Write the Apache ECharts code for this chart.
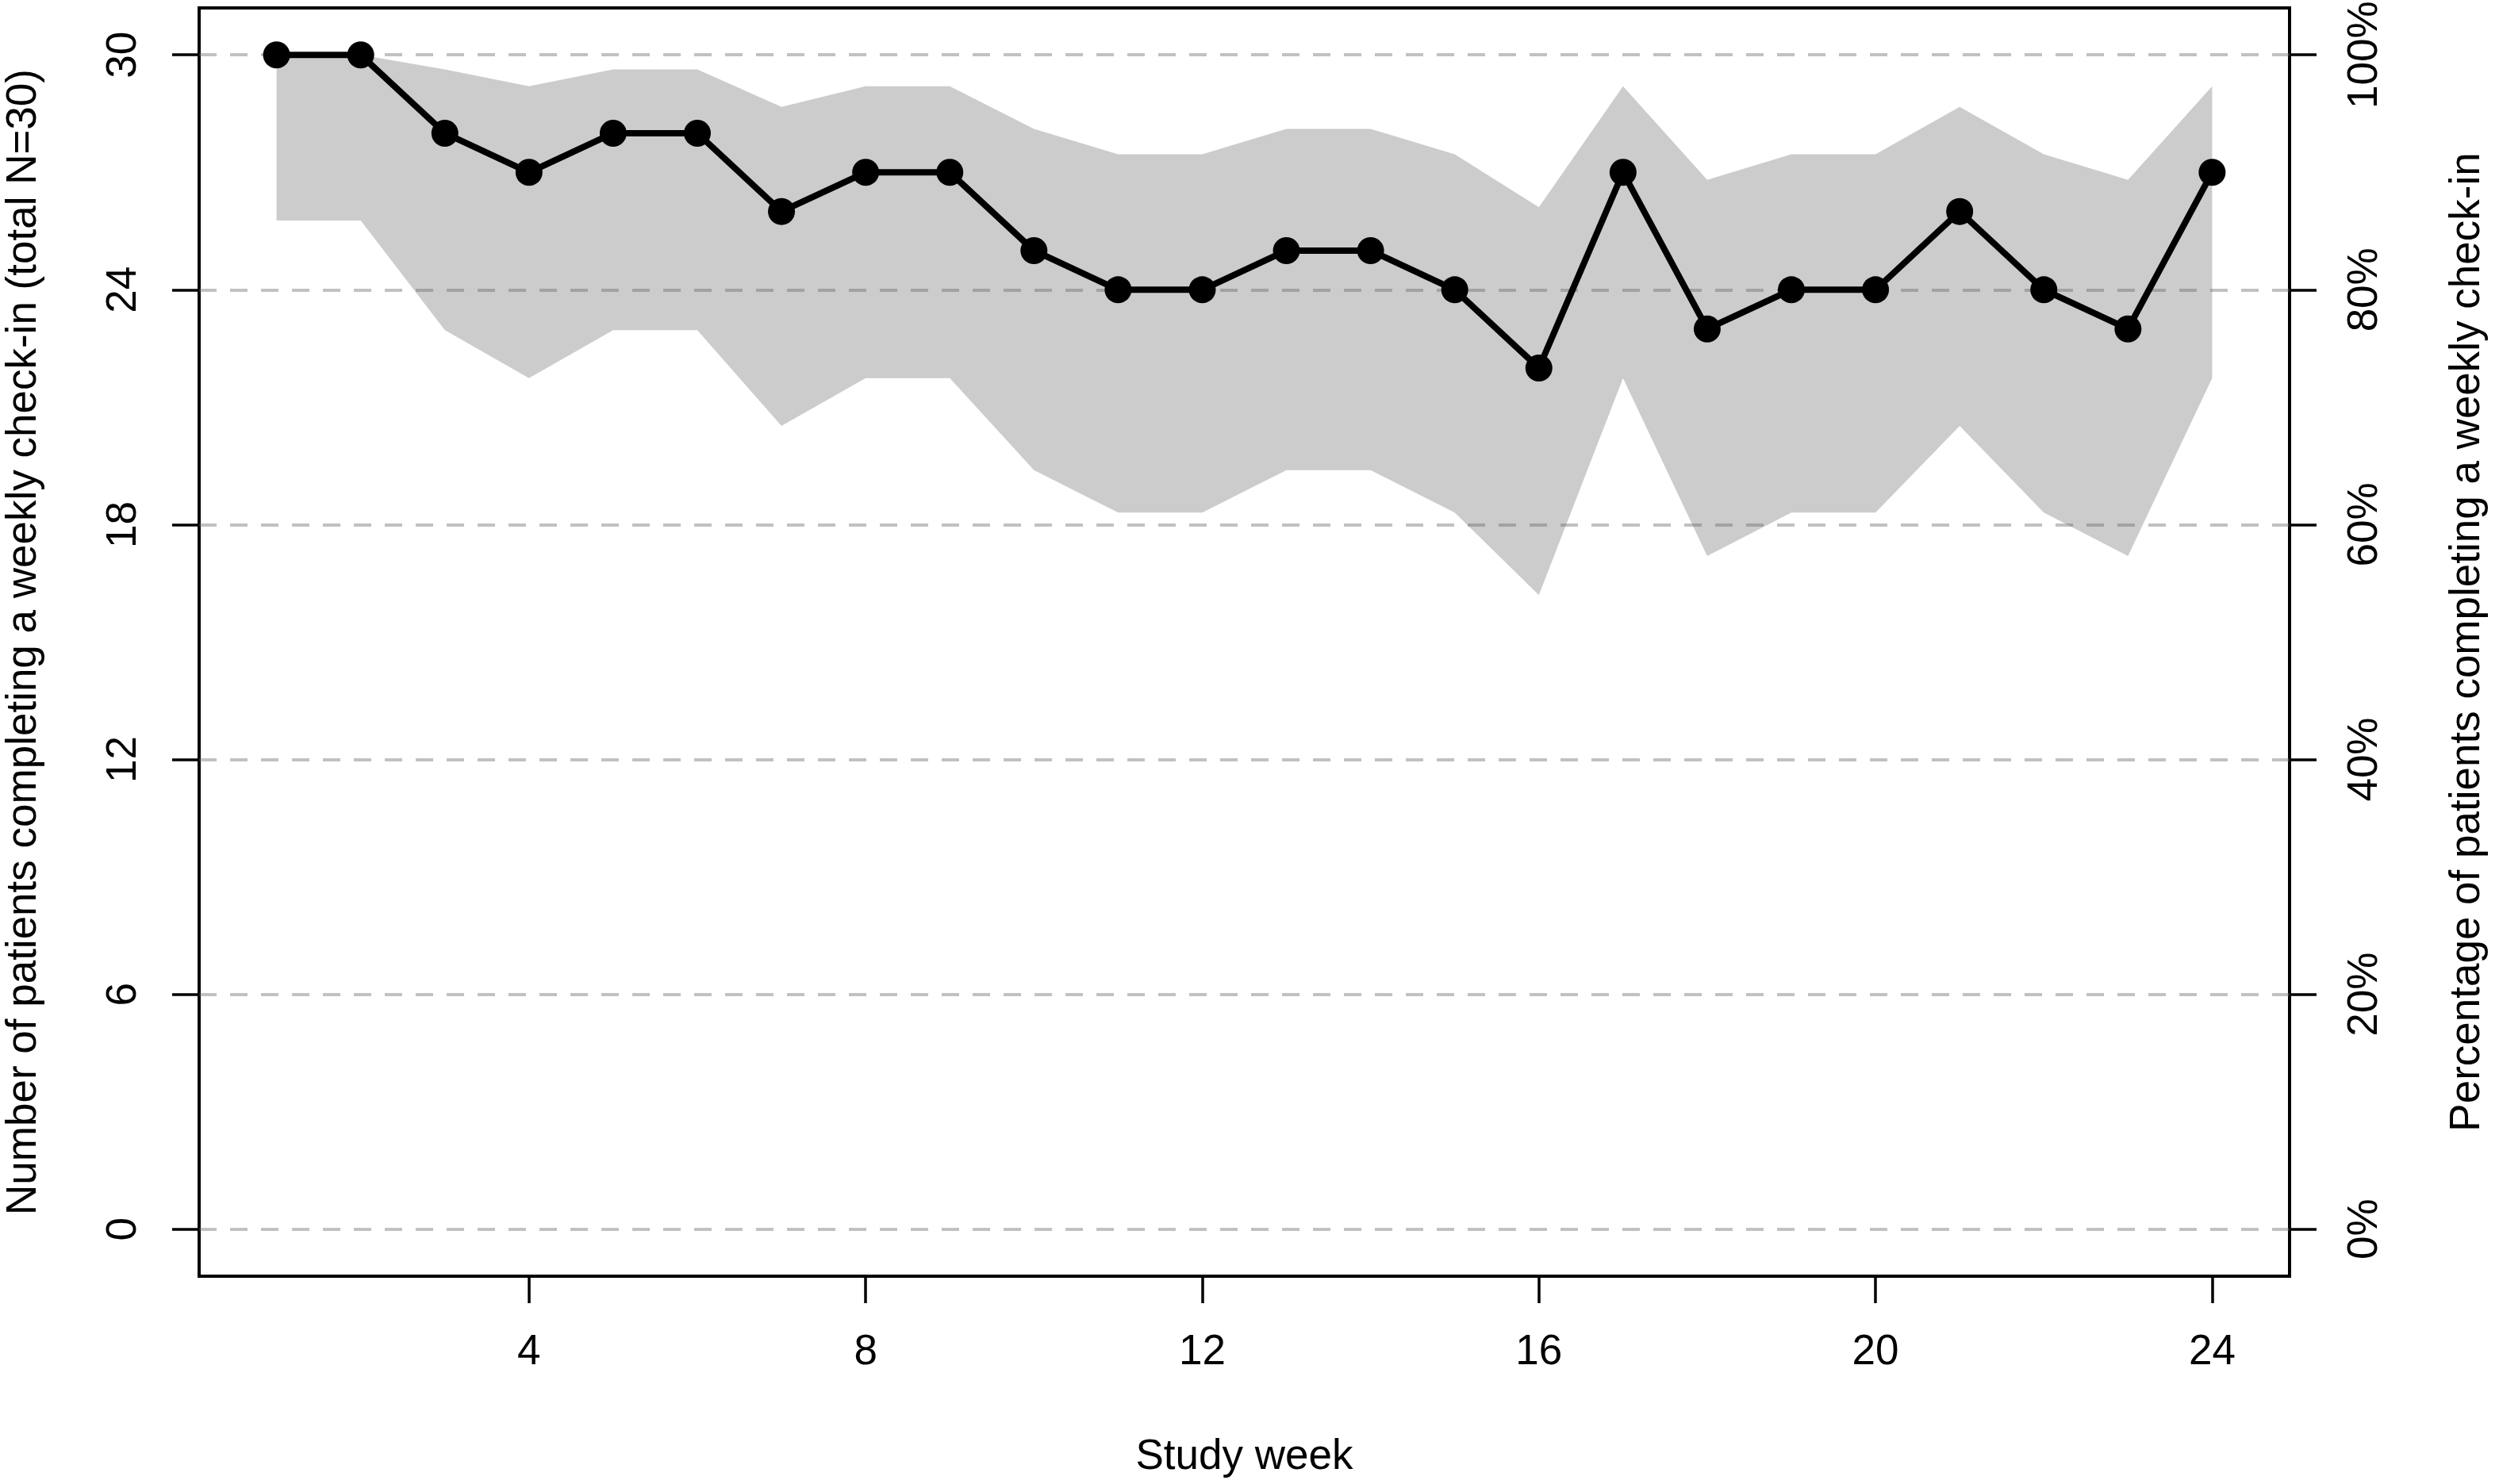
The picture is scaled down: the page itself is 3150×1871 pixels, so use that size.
<!DOCTYPE html>
<html>
<head>
<meta charset="utf-8">
<title>weekly check-in</title>
<script src="https://cdn.jsdelivr.net/npm/echarts@6.0.0/dist/echarts.min.js"></script>
<style>
  html, body { margin: 0; padding: 0; background: #fff; }
  #main { width: 3150px; height: 1871px; }
</style>
</head>
<body>
<div id="main"></div>
<script>
// values
var weeks = [1, 2, 3, 4, 5, 6, 7, 8, 9, 10, 11, 12, 13, 14, 15, 16, 17, 18, 19, 20, 21, 22, 23, 24];
var completed = [30, 30, 28, 27, 28, 28, 26, 27, 27, 25, 24, 24, 25, 25, 24, 22, 27, 23, 24, 24, 26, 24, 23, 27];
var upperCI = [30, 30, 29.63, 29.2, 29.63, 29.63, 28.67, 29.2, 29.2, 28.11, 27.46, 27.46, 28.11, 28.11, 27.46, 26.11, 29.2, 26.81, 27.46, 27.46, 28.67, 27.46, 26.81, 29.2];
var lowerCI = [25.77, 25.77, 22.97, 21.74, 22.97, 22.97, 20.52, 21.74, 21.74, 19.39, 18.31, 18.31, 19.39, 19.39, 18.31, 16.2, 21.74, 17.2, 18.31, 18.31, 20.52, 18.31, 17.2, 21.74];
var countTicks = [0, 6, 12, 18, 24, 30];
var pctTicks = [0, 20, 40, 60, 80, 100];
var weekTicks = [4, 8, 12, 16, 20, 24];

var FONT = "'Liberation Sans', Arial, sans-serif";
var tickStyle = { show: true, length: 34, lineStyle: { color: '#000', width: 3.5 } };

var chart = echarts.init(document.getElementById('main'));

chart.setOption({
  animation: false,
  backgroundColor: '#fff',
  textStyle: { fontFamily: FONT, color: '#000' },
  grid: {
    left: 251, right: 264, top: 10, bottom: 262,
    show: true, borderColor: '#000', borderWidth: 4,
    outerBoundsMode: 'none'
  },
  xAxis: {
    type: 'value', min: 0.08, max: 24.92,
    name: 'Study week', nameLocation: 'middle', nameGap: 202, nameMoveOverlap: false,
    nameTextStyle: { fontSize: 53, color: '#000', fontFamily: FONT },
    axisLine: { show: false, onZero: false },
    axisTick: Object.assign({ customValues: weekTicks }, tickStyle),
    axisLabel: { customValues: weekTicks, fontSize: 53, color: '#000', margin: 70, fontFamily: FONT },
    splitLine: { show: false }
  },
  yAxis: [{
    type: 'value', min: -1.2, max: 31.2, position: 'left',
    name: 'Number of patients completing a weekly check-in (total N=30)',
    nameLocation: 'middle', nameGap: 194, nameMoveOverlap: false,
    nameTextStyle: { fontSize: 53, color: '#000', fontFamily: FONT },
    axisLine: { show: false, onZero: false },
    axisTick: Object.assign({ customValues: countTicks }, tickStyle),
    axisLabel: { customValues: countTicks, rotate: 90, fontSize: 53, color: '#000', margin: 68, fontFamily: FONT },
    splitLine: { show: false }
  }, {
    type: 'value', min: -4, max: 104, position: 'right', alignTicks: false,
    name: 'Percentage of patients completing a weekly check-in',
    nameLocation: 'middle', nameGap: 198, nameMoveOverlap: false,
    nameTextStyle: { fontSize: 53, color: '#000', fontFamily: FONT },
    axisLine: { show: false, onZero: false },
    axisTick: Object.assign({ customValues: pctTicks }, tickStyle),
    axisLabel: { customValues: pctTicks, rotate: 90, fontSize: 53, color: '#000', margin: 69, fontFamily: FONT,
      formatter: function (v) { return v + '%'; } },
    splitLine: { show: false }
  }],
  series: [{
    // confidence band as one polygon
    type: 'custom',
    silent: true,
    z: 1,
    data: weeks.map(function (w, i) { return [w, lowerCI[i], upperCI[i]]; }),
    encode: { x: 0, y: [1, 2] },
    renderItem: function (params, api) {
      if (params.dataIndex !== 0) return null;
      var pts = [];
      for (var i = 0; i < weeks.length; i++) pts.push(api.coord([weeks[i], upperCI[i]]));
      for (var j = weeks.length - 1; j >= 0; j--) pts.push(api.coord([weeks[j], lowerCI[j]]));
      return { type: 'polygon', shape: { points: pts }, style: { fill: '#cccccc' } };
    }
  }, {
    type: 'line',
    z: 10,
    silent: true,
    data: weeks.map(function (w, i) { return [w, completed[i]]; }),
    symbol: 'circle',
    symbolSize: 34,
    itemStyle: { color: '#000' },
    lineStyle: { color: '#000', width: 8 },
    markLine: {
      silent: true,
      symbol: 'none',
      z: 5,
      label: { show: false },
      lineStyle: { color: 'rgba(100,100,100,0.4)', width: 4, type: [22, 17] },
      data: countTicks.map(function (v) { return { yAxis: v }; })
    }
  }]
});
</script>
</body>
</html>
